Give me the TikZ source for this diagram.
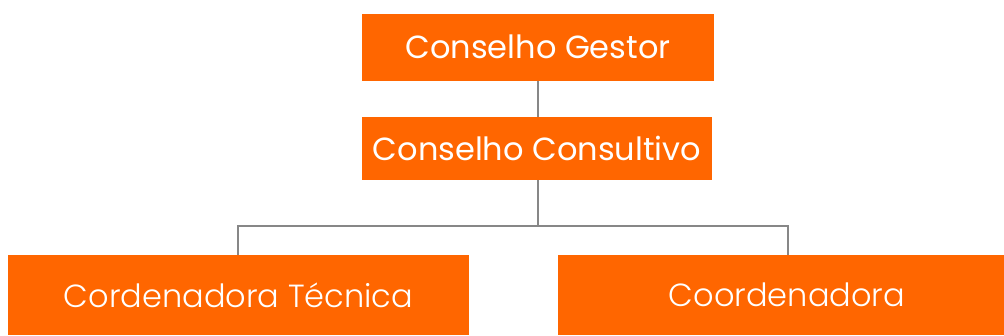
\documentclass[tikz,border=0pt]{standalone}
\usepackage{fontspec}
\setmainfont{Poppins}
\newfontfamily\poplight{Poppins Light}
\definecolor{boxorange}{HTML}{FF6600}
\definecolor{linegray}{HTML}{878787}
\begin{document}
\begin{tikzpicture}[x=1pt,y=-1pt,
  orgbox/.style={fill=boxorange,draw=none,text=white,inner sep=0pt,font=\fontsize{32}{38}\selectfont},
  lightbox/.style={orgbox,font=\poplight\fontsize{32}{38}\selectfont},
  conn/.style={draw=linegray,line width=2.8pt}]
\useasboundingbox (0,0) rectangle (1004,335);
\node[orgbox,minimum width=352,minimum height=66.5] (g) at (538,47.3) {Conselho Gestor};
\node[orgbox,minimum width=349.5,minimum height=63] (c) at (537,148.5) {Conselho Consultivo};
\node[lightbox,minimum width=461,minimum height=80] (t) at (238.5,295) {Cordenadora Técnica};
\node[lightbox,minimum width=446,minimum height=80] (k) at (781,295) {\hspace*{12pt}Coordenadora};
\coordinate (j) at (538,226);
\draw[conn] (538,0 |- g.south) -- (538,0 |- c.north);
\draw[conn] (538,0 |- c.south) -- (j);
\draw[conn] (238,0 |- t.north) -- (238,226) -- (j) -- (788,226) -- (788,0 |- k.north);
\end{tikzpicture}
\end{document}
